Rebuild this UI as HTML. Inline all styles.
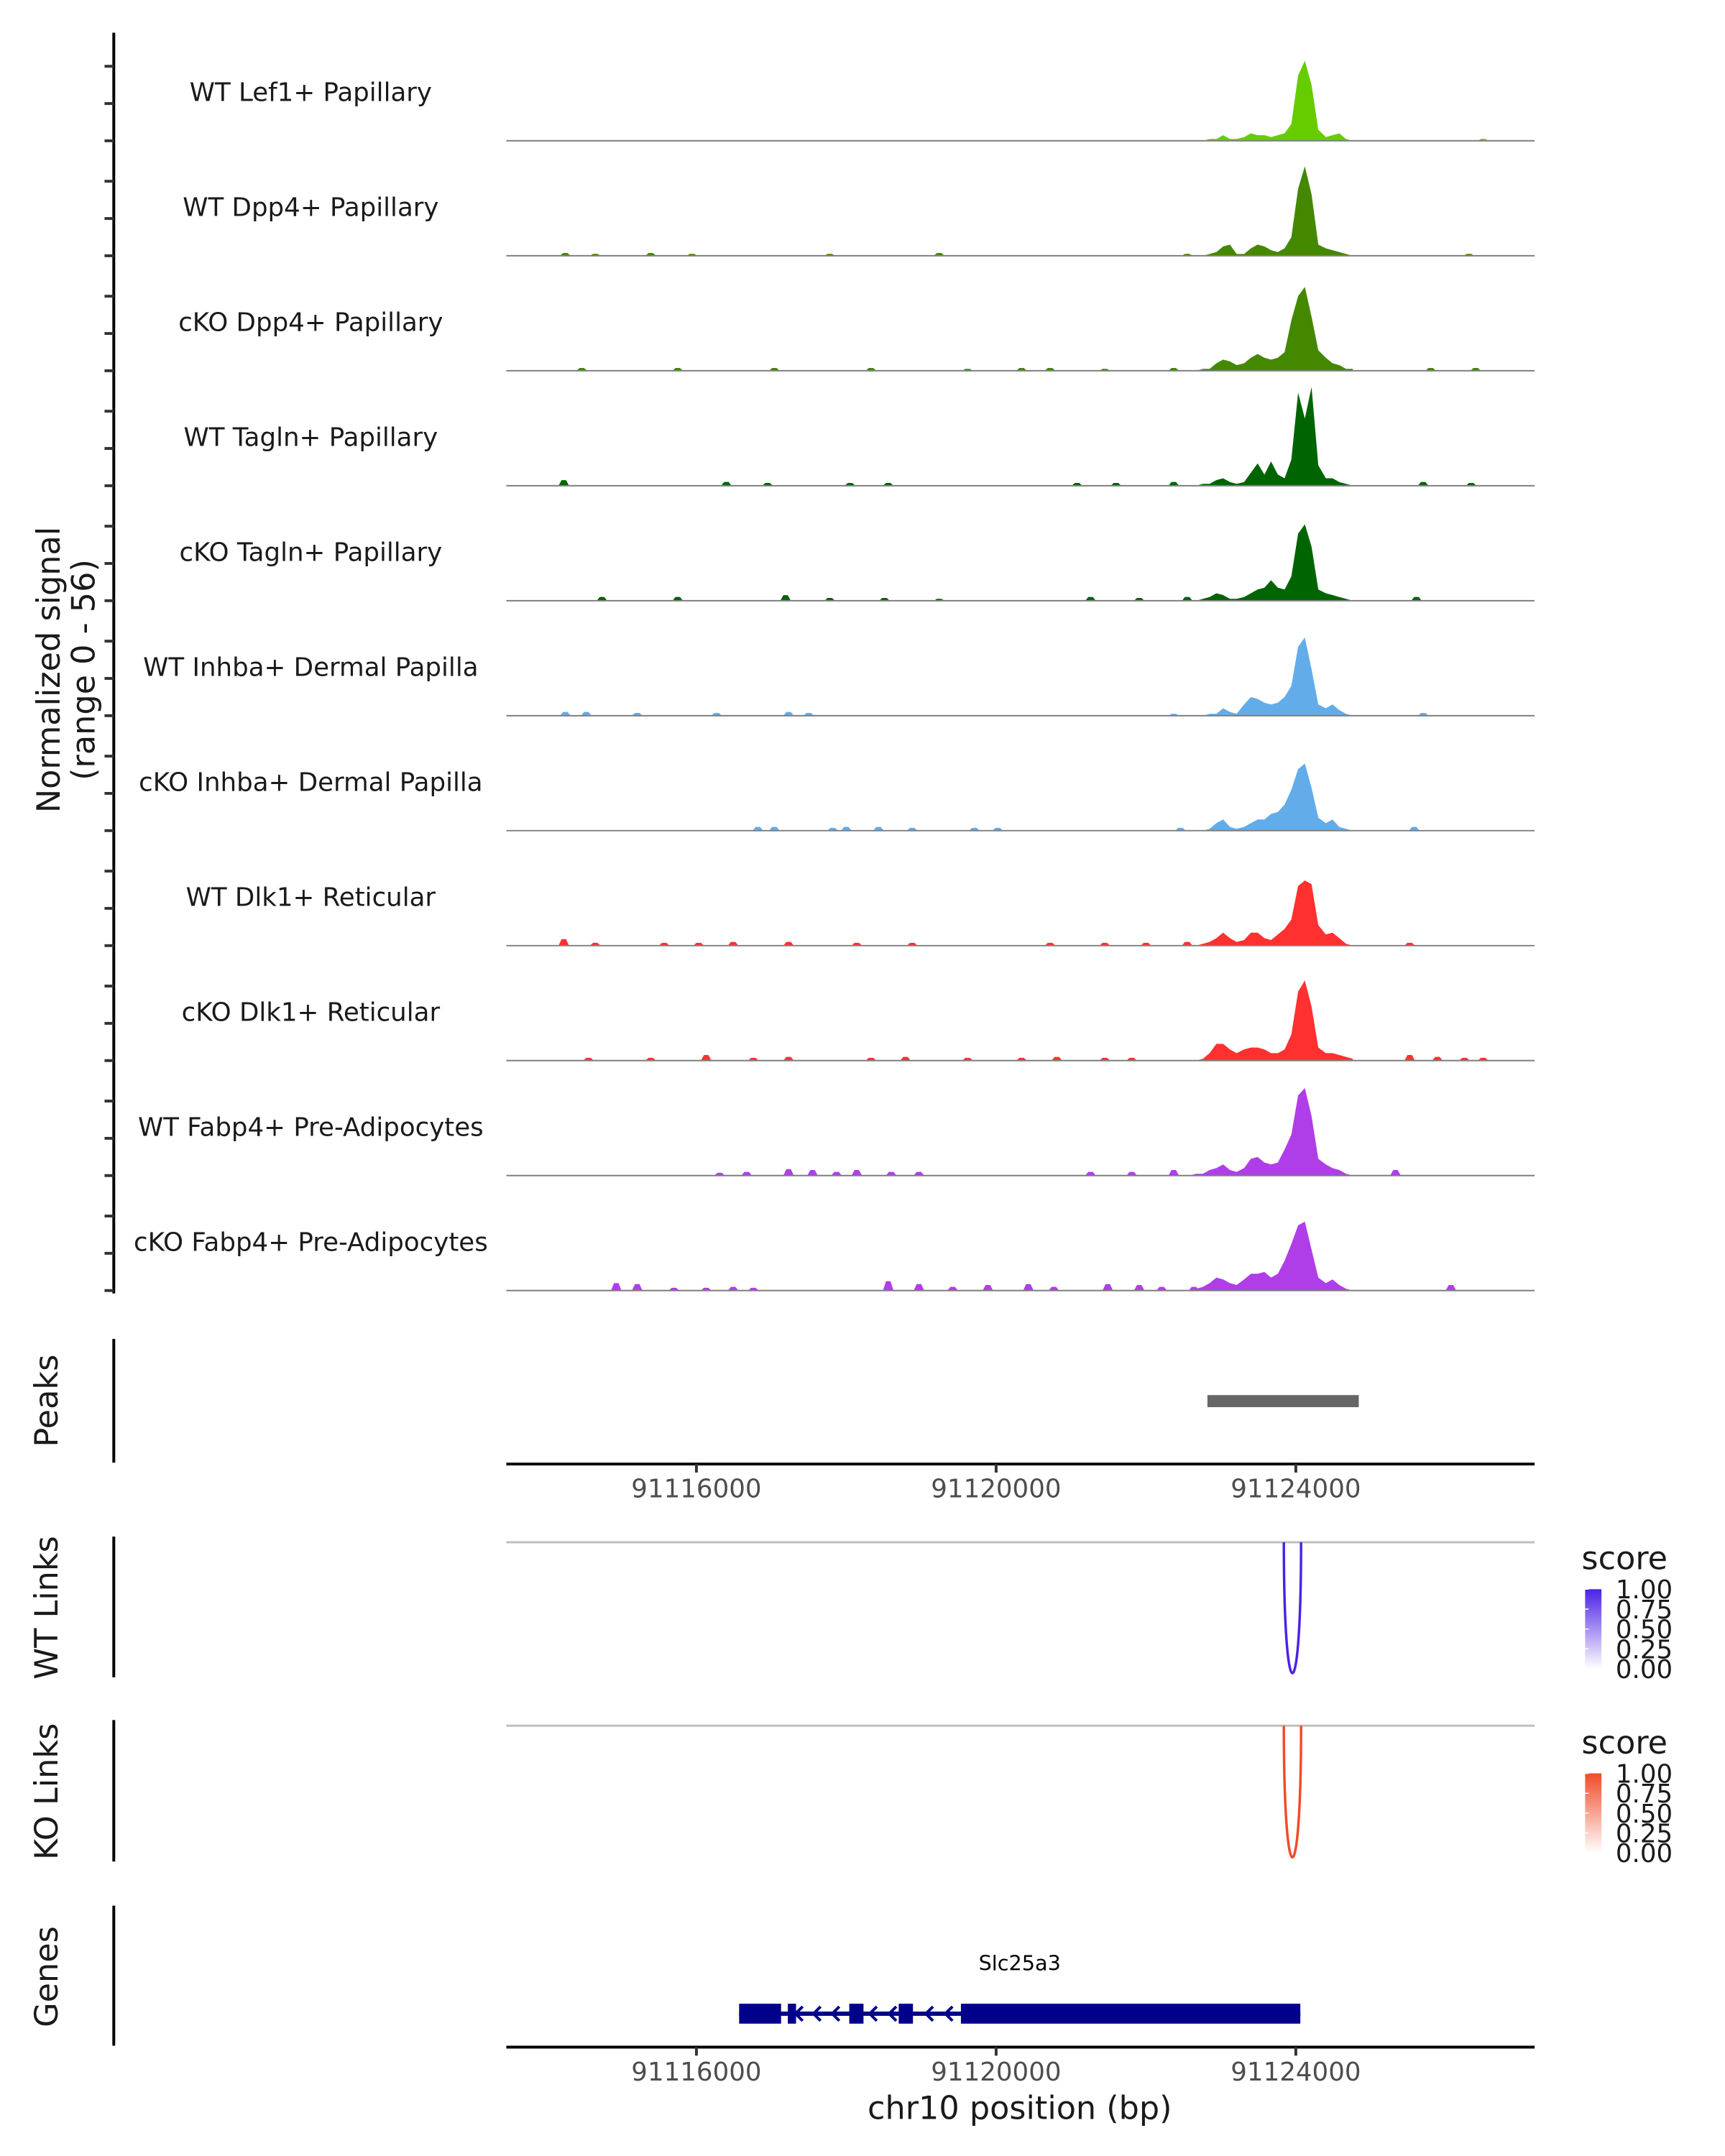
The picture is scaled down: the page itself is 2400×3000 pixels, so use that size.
<!DOCTYPE html>
<html><head><meta charset="utf-8"><style>
html,body{margin:0;padding:0;background:#fff}
svg{display:block;font-family:"DejaVu Sans","Liberation Sans",sans-serif}
</style></head><body>
<svg id="chart" width="2400" height="3000" viewBox="0 0 2400 3000" xmlns="http://www.w3.org/2000/svg">
<g transform="scale(0.9894)">
<g id="tracks"></g>
<g id="peaks"></g>
<g id="links"></g>
<g id="genes"></g>
</g>
</svg>
<script>
// ---- data (positions in kb on chr10) ----
const trackNames = ["WT Lef1+ Papillary","WT Dpp4+ Papillary","cKO Dpp4+ Papillary","WT Tagln+ Papillary","cKO Tagln+ Papillary","WT Inhba+ Dermal Papilla","cKO Inhba+ Dermal Papilla","WT Dlk1+ Reticular","cKO Dlk1+ Reticular","WT Fabp4+ Pre-Adipocytes","cKO Fabp4+ Pre-Adipocytes"];
const trackColors = ["#66CC00","#448800","#448800","#006400","#006400","#63ACEA","#63ACEA","#FF3030","#FF3030","#B03EE8","#B03EE8"];
const mainPos = [91122.58,91122.67,91122.76,91122.85,91122.94,91123.03,91123.12,91123.21,91123.31,91123.40,91123.49,91123.58,91123.67,91123.76,91123.85,91123.94,91124.03,91124.12,91124.21,91124.30,91124.40,91124.49,91124.58,91124.67,91124.76];
const mainLef1WT  = [0,0,0,1,1,3,1,1,2,4,3,3,2,3,4,9,35,43,30,6,2,3,4,1,0];
const mainDpp4WT  = [0,0,0,1,2,5,6,1,1,4,6,5,3,2,4,10,36,48,33,6,4,3,2,1,0];
const mainDpp4KO  = [0,0,1,1,4,6,5,3,4,7,9,7,6,7,10,27,40,45,29,11,7,4,3,1,1];
const mainTaglnWT = [0,0,1,1,3,4,2,1,2,7,12,6,13,6,4,14,50,36,53,11,4,4,2,1,0];
const mainTaglnKO = [0,0,1,2,4,3,1,1,2,4,6,7,11,7,6,13,36,41,29,6,4,3,2,1,0];
const mainInhbaWT = [0,0,0,1,1,4,2,1,6,10,9,7,6,7,10,16,37,42,25,6,4,6,3,1,0];
const mainInhbaKO = [0,0,0,1,4,6,2,1,2,4,6,6,9,10,14,22,33,36,23,7,4,6,2,1,0];
const mainDlk1WT  = [0,0,1,2,4,7,4,2,3,7,7,4,3,6,9,14,32,35,33,11,6,7,4,1,0];
const mainDlk1KO  = [0,0,1,4,9,9,6,4,6,7,7,6,4,4,6,14,37,43,29,7,4,4,3,2,1];
const mainFabp4WT = [0,1,1,3,4,6,3,2,4,9,10,7,6,7,14,22,43,47,32,9,6,4,3,1,0];
const mainFabp4KO = [0,1,2,4,7,6,4,3,6,9,9,10,7,9,16,25,35,37,22,7,4,6,3,1,0];
const mainSignals = [mainLef1WT,mainDpp4WT,mainDpp4KO,mainTaglnWT,mainTaglnKO,mainInhbaWT,mainInhbaKO,mainDlk1WT,mainDlk1KO,mainFabp4WT,mainFabp4KO];
const bumpPos = [
 [91126.50],
 [91114.25,91114.65,91115.39,91115.94,91117.78,91119.24,91122.55,91126.31],
 [91114.47,91115.75,91117.04,91118.33,91119.62,91120.34,91120.72,91121.45,91122.37,91125.80,91126.40],
 [91114.23,91116.40,91116.95,91118.05,91118.56,91121.08,91121.60,91122.37,91125.70,91126.34],
 [91114.74,91115.75,91117.19,91117.78,91118.51,91119.24,91121.26,91121.91,91122.55,91125.61],
 [91114.25,91114.53,91115.21,91116.27,91117.23,91117.50,91122.37,91125.70],
 [91116.82,91117.04,91117.82,91118.00,91118.43,91118.88,91119.71,91120.02,91122.46,91125.58],
 [91114.23,91114.65,91115.57,91116.03,91116.49,91117.23,91118.14,91118.88,91120.72,91121.45,91122.00,91122.55,91125.52],
 [91114.56,91115.39,91116.13,91116.76,91117.23,91118.33,91118.79,91119.62,91120.34,91120.81,91121.45,91121.81,91125.52,91125.89,91126.25,91126.50],
 [91116.31,91116.67,91117.23,91117.55,91117.87,91118.14,91118.60,91118.97,91121.26,91121.81,91122.37,91125.33],
 [91114.93,91115.21,91115.70,91116.13,91116.49,91116.76,91118.56,91118.97,91119.42,91119.89,91120.43,91120.77,91121.49,91121.91,91122.21,91122.64,91126.07]
];
const bumpVal = [
 [1],
 [1.5,1,1.5,1,1,1.5,1,1],
 [1.5,1.5,1.5,1.5,1,1.5,1.5,1,1.5,1.5,1.5],
 [3,2,1.5,1.5,1.5,1.5,1.5,2,2,1.5],
 [2,2,3,1.5,1.5,1,2,1.5,2,2],
 [2,2,1.5,1.5,2,1.5,1,1.5],
 [2,2,1.5,2,2,1.5,1.5,1.5,1.5,2],
 [3.5,1.5,1.5,1.5,2,2,1.5,1.5,1.5,1.5,1.5,2,1.5],
 [1.5,1.5,3,1.5,2,1.5,2,1.5,1.5,2,1.5,1.5,3,2,1.5,1.5],
 [1.5,2,3.5,3,2,3,2,2,2,2,3,3],
 [4,3.5,1.5,1.5,2,1.5,5,3.5,2,3,3.5,2,3.5,3,2,2,3]
];
const yTicks = [0,20,40];
const xTickVals = [91116,91120,91124];
const xTickLabels = ["91116000","91120000","91124000"];
const peakStarts = [91122.82];
const peakEnds = [91124.84];
const wtLinkStart = [91123.84], wtLinkEnd = [91124.07], wtLinkScore = [1];
const koLinkStart = [91123.84], koLinkEnd = [91124.07], koLinkScore = [1];
const legendLabels = ["1.00","0.75","0.50","0.25","0.00"];
const geneName = "Slc25a3";
const geneStart = 91116.57, geneEnd = 91124.06;
const exonStarts = [91116.57,91117.22,91118.04,91118.70,91119.53];
const exonEnds   = [91117.13,91117.33,91118.23,91118.89,91124.06];
const chevronPos = [91117.37,91117.61,91117.86,91118.36,91118.62,91119.11,91119.37];

// ---- scales ----
const X0 = 712, X1 = 2158, D0 = 91113.463, D1 = 91127.187;
const x = kb => X0 + (kb - D0) / (D1 - D0) * (X1 - X0);
const PX_PER_UNIT = 2.62;
const baseY = i => 198 + i * 161.7;
const y = (i, v) => baseY(i) - v * PX_PER_UNIT;
const NS = "http://www.w3.org/2000/svg";
function mk(tag, attrs, parent, text){
  const e = document.createElementNS(NS, tag);
  for (const k in attrs) e.setAttribute(k, attrs[k]);
  if (text !== undefined) e.textContent = text;
  parent.appendChild(e);
  return e;
}

// ---- coverage tracks ----
const gT = document.getElementById('tracks');
let ax = mk('line', {x1:160,y1:46,x2:160,y2:1819,stroke:'#000','stroke-width':4}, gT);


let yt = mk('text', {transform:'translate(0,942) rotate(-90)','text-anchor':'middle','font-size':45,fill:'#1a1a1a'}, gT);


mk('tspan', {x:0,y:84}, yt, 'Normalized signal');
mk('tspan', {x:0,y:133}, yt, '(range 0 - 56)');

trackNames.forEach((name, i) => {
  const g = mk('g', {}, gT);
  
  
  yTicks.forEach(v => {
    const t = mk('line', {x1:147,x2:160,y1:y(i,v),y2:y(i,v),stroke:'#333','stroke-width':4}, g);
    
    
  });
  const lab = mk('text', {x:437,y:baseY(i)-56,'text-anchor':'middle','font-size':36,fill:'#1a1a1a'}, g, name);
  
  
  const vals = mainSignals[i];
  let d = 'M' + x(mainPos[0]) + ',' + baseY(i);
  mainPos.forEach((p, j) => { d += ' L' + x(p).toFixed(1) + ',' + y(i, vals[j]).toFixed(1); });
  d += ' L' + x(mainPos[mainPos.length-1]) + ',' + baseY(i) + ' Z';
  const a = mk('path', {d:d, fill:trackColors[i]}, g);
  
  
  bumpPos[i].forEach((p, j) => {
    const v = bumpVal[i][j];
    const bd = 'M' + x(p-0.07) + ',' + baseY(i) + ' L' + x(p-0.03) + ',' + y(i,v) + ' L' + x(p+0.03) + ',' + y(i,v) + ' L' + x(p+0.07) + ',' + baseY(i) + ' Z';
    const b = mk('path', {d:bd, fill:trackColors[i]}, g);
    
    
  });
  const bl = mk('line', {x1:X0,x2:X1,y1:baseY(i),y2:baseY(i),stroke:'#7f7f7f','stroke-width':2}, g);
  
  
});

function xAxis(parent, yy, name){
  const g = mk('g', {}, parent);
  
  
  mk('line', {x1:X0,x2:X1,y1:yy,y2:yy,stroke:'#000','stroke-width':4}, g);
  xTickVals.forEach((v, j) => {
    const t = mk('line', {x1:x(v),x2:x(v),y1:yy,y2:yy+12,stroke:'#333','stroke-width':4}, g);
    
    
    const l = mk('text', {x:x(v),y:yy+47,'text-anchor':'middle','font-size':36,fill:'#4d4d4d'}, g, xTickLabels[j]);
    
    
  });
}
function sideLabel(parent, text, cy, name){
  const t = mk('text', {transform:'translate(81,'+cy+') rotate(-90)','text-anchor':'middle','font-size':45,fill:'#1a1a1a'}, parent, text);
  
  
}
function sideAxis(parent, y1, y2, name){
  const l = mk('line', {x1:160,x2:160,y1:y1,y2:y2,stroke:'#000','stroke-width':4}, parent);
  
  
}

// ---- peaks ----
const gP = document.getElementById('peaks');
sideAxis(gP, 1883, 2057, 'peaks-axis');
sideLabel(gP, 'Peaks', 1970, 'peaks-label');
peakStarts.forEach((s, j) => {
  const r = mk('rect', {x:x(s),y:1962,width:x(peakEnds[j])-x(s),height:17,fill:'#666'}, gP);
  
  
});
xAxis(gP, 2059, 'peaks-x-axis');

// ---- links ----
const gL = document.getElementById('links');
function linkPanel(top, bottom, starts, ends, scores, color, legendTop, label, pre){
  const g = mk('g', {}, gL);
  
  
  sideAxis(g, top-8, bottom+6, pre + '-links-axis');
  sideLabel(g, label, (top+bottom)/2, pre + '-links-label');
  mk('line', {x1:X0,x2:X1,y1:top,y2:top,stroke:'#bfbfbf','stroke-width':3}, g);
  starts.forEach((s, j) => {
    const d = (bottom - top) * scores[j];
    const c = top + d * 4/3;
    const p = mk('path', {d:'M'+x(s)+','+top+' C'+x(s)+','+c+' '+x(ends[j])+','+c+' '+x(ends[j])+','+top, fill:'none', stroke:color, 'stroke-width':3.5}, g);
    
    
  });
  const lg = mk('g', {}, g);
  
  
  mk('text', {x:2224,y:legendTop,'font-size':45,fill:'#1a1a1a'}, lg, 'score');
  const gid = pre + 'grad';
  const defs = mk('defs', {}, lg);
  const gr = mk('linearGradient', {id:gid,x1:0,y1:1,x2:0,y2:0}, defs);
  mk('stop', {offset:'0', 'stop-color':'#ffffff'}, gr);
  mk('stop', {offset:'1', 'stop-color':color}, gr);
  const barTop = legendTop + 28;
  mk('rect', {x:2229,y:barTop,width:23,height:112,fill:'url(#'+gid+')'}, lg);
  legendLabels.forEach((t, k) => {
    const yy = barTop + k * 28;
    mk('line', {x1:2229,x2:2234,y1:yy,y2:yy,stroke:'#fff','stroke-width':1.5}, lg);
    mk('text', {x:2272,y:yy+13,'font-size':36,fill:'#1a1a1a'}, lg, t);
  });
}
linkPanel(2169, 2353, wtLinkStart, wtLinkEnd, wtLinkScore, '#4B22E6', 2207, 'WT Links', 'wt');
linkPanel(2427, 2612, koLinkStart, koLinkEnd, koLinkScore, '#F04B2B', 2466, 'KO Links', 'ko');

// ---- genes ----
const gG = document.getElementById('genes');
sideAxis(gG, 2680, 2877, 'genes-axis');
sideLabel(gG, 'Genes', 2780, 'genes-label');
const gy = 2832;
let gl = mk('text', {x:x((geneStart+geneEnd)/2),y:2771,'text-anchor':'middle','font-size':29,fill:'#000'}, gG, geneName);


let intr = mk('rect', {x:x(geneStart),y:gy-3,width:x(geneEnd)-x(geneStart),height:6,fill:'#00008B'}, gG);


exonStarts.forEach((s, j) => {
  const r = mk('rect', {x:x(s),y:gy-14,width:x(exonEnds[j])-x(s),height:28,fill:'#00008B'}, gG);
  
  
});
chevronPos.forEach(p => {
  const cx = x(p);
  const c = mk('path', {d:'M'+(cx+5)+','+(gy-10)+' L'+(cx-5)+','+gy+' L'+(cx+5)+','+(gy+10), fill:'none', stroke:'#00008B','stroke-width':4}, gG);
  
  
});
xAxis(gG, 2879, 'genes-x-axis');
let xt = mk('text', {x:1434,y:2980,'text-anchor':'middle','font-size':45,fill:'#1a1a1a'}, gG, 'chr10 position (bp)');


</script>
</body></html>
